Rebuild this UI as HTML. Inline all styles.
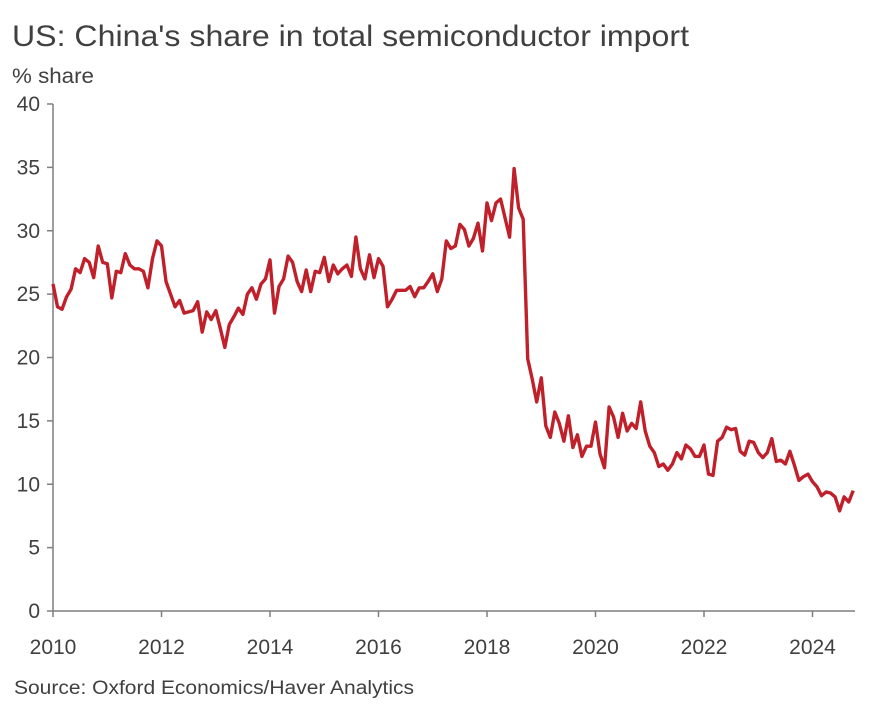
<!DOCTYPE html>
<html><head><meta charset="utf-8"><style>
body{margin:0;background:#fff;font-family:"Liberation Sans",sans-serif;}
svg text{font-family:"Liberation Sans",sans-serif;fill:#404040;}
</style></head><body>
<svg width="891" height="711" id="c">
<text x="12" y="46" font-size="30" textLength="677" lengthAdjust="spacingAndGlyphs">US: China's share in total semiconductor import</text>
<text x="12" y="83" font-size="21" textLength="82" lengthAdjust="spacingAndGlyphs">% share</text>
<text x="14" y="694" font-size="19" textLength="400" lengthAdjust="spacingAndGlyphs">Source: Oxford Economics/Haver Analytics</text>
<g id="axes"></g>
<path id="line" fill="none" stroke="#c0202a" stroke-width="3.4" stroke-linejoin="round"/>
</svg>
<script>
const yTicks=[0,5,10,15,20,25,30,35,40];
const xTicks=[2010,2012,2014,2016,2018,2020,2022,2024];
const startYear=2010;
const values=[25.8,24.0,23.8,24.8,25.4,27.0,26.7,27.8,27.5,26.3,28.8,27.5,
27.4,24.7,26.8,26.7,28.2,27.3,27.0,27.0,26.8,25.5,27.8,29.2,
28.8,26.0,25.0,24.0,24.5,23.5,23.6,23.7,24.4,22.0,23.6,23.0,
23.7,22.3,20.8,22.6,23.2,23.9,23.4,25.0,25.5,24.6,25.8,26.2,
27.7,23.5,25.6,26.2,28.0,27.5,26.0,25.2,26.9,25.2,26.8,26.7,
27.9,26.0,27.3,26.6,27.0,27.3,26.4,29.5,27.0,26.2,28.1,26.3,
27.8,27.2,24.0,24.6,25.3,25.3,25.3,25.6,24.8,25.5,25.5,26.0,
26.6,25.2,26.2,29.2,28.6,28.8,30.5,30.1,28.8,29.4,30.6,28.4,
32.2,30.8,32.2,32.5,31.0,29.5,34.9,31.8,30.9,19.9,18.3,16.5,
18.4,14.6,13.7,15.7,14.8,13.4,15.4,12.9,13.9,12.2,13.0,13.0,
14.9,12.4,11.3,16.1,15.3,13.7,15.6,14.2,14.8,14.4,16.5,14.2,
13.0,12.5,11.4,11.6,11.1,11.6,12.5,12.0,13.1,12.8,12.2,12.2,
13.1,10.8,10.7,13.4,13.7,14.5,14.3,14.4,12.6,12.3,13.4,13.3,
12.5,12.1,12.5,13.6,11.8,11.9,11.6,12.6,11.5,10.3,10.6,10.8,
10.2,9.8,9.1,9.4,9.3,9.0,7.9,9.0,8.6,9.5];
const x0=53,pxYear=54.25,y0=611,pxUnit=12.675,xEnd=855;
const X=m=>x0+m*pxYear/12, Y=v=>y0-v*pxUnit;
const NS="http://www.w3.org/2000/svg";
const g=document.getElementById('axes');
function mk(t,a){const e=document.createElementNS(NS,t);for(const k in a)e.setAttribute(k,a[k]);g.appendChild(e);return e;}
const ya=mk('line',{x1:x0,y1:Y(40),x2:x0,y2:y0,stroke:'#7f7f7f','stroke-width':1.5});


const xa=mk('line',{x1:x0,y1:y0,x2:xEnd,y2:y0,stroke:'#7f7f7f','stroke-width':1.5});


yTicks.forEach(v=>{
 mk('line',{x1:x0-6,y1:Y(v),x2:x0,y2:Y(v),stroke:'#7f7f7f','stroke-width':1.5});
 const t=mk('text',{x:x0-13,y:Y(v)+7,'font-size':21,'text-anchor':'end'});
 t.textContent=v;
 
 
});
xTicks.forEach(yr=>{
 const x=X((yr-startYear)*12);
 mk('line',{x1:x,y1:y0,x2:x,y2:y0+6,stroke:'#7f7f7f','stroke-width':1.5});
 const t=mk('text',{x:x,y:654,'font-size':21,'text-anchor':'middle'});
 t.textContent=yr;
 
 
});
document.getElementById('line').setAttribute('d',values.map((v,i)=>(i?'L':'M')+X(i).toFixed(1)+','+Y(v).toFixed(1)).join(''));
</script>
</body></html>
